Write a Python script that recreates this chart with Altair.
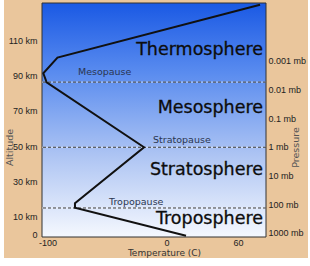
import altair as alt
import pandas as pd

# temperature profile (deg C vs km)
temp_c = [16.4, -76.9, -76.9, -18.9, -100.7, -103.5, -91.6, 78.6]
alt_km = [-0.8, 15.1, 17.6, 49.3, 86.1, 91.2, 100.1, 130.0]

pause_names = ["Tropopause", "Stratopause", "Mesopause"]
pause_km = [14.9, 49.3, 86.2]
pause_label_t = [-48.3, -11.3, -74.4]
pause_label_km = [18.3, 53.4, 91.9]

sphere_names = ["Troposphere", "Stratosphere", "Mesosphere", "Thermosphere"]
sphere_label_km = [8.7, 36.4, 71.5, 104.4]
sphere_label_t = [81.1, 81.1, 81.1, 81.1]

km_ticks = [0, 10, 30, 50, 70, 90, 110]
temp_ticks = [-100, 0, 60]
pressure_ticks = [0.001, 0.01, 0.1, 1, 10, 100, 1000]

TAN = "#EAC69C"
W, H = 224, 234

x_scale = alt.Scale(domain=[-104.6, 83.6], nice=False, zero=False)
y_scale = alt.Scale(domain=[-1.53, 131.0], nice=False, zero=False)

lab = dict(labelFont="Liberation Sans", labelFontSize=9, labelColor="#222",
           labelOverlap=False, ticks=False, tickSize=0, domain=False, grid=False,
           zindex=1)

x_axis = alt.Axis(values=temp_ticks, labelExpr="'' + datum.value", labelPadding=1,
                  title="Temperature (C)", titleFont="DejaVu Sans", titleFontSize=9,
                  titleFontWeight="normal", titleColor="#333", titleX=122, titleY=15,
                  titleBaseline="middle", **lab)
y_axis = alt.Axis(values=km_ticks,
                  labelExpr="datum.value == 0 ? '0' : datum.value + ' km'",
                  labelPadding=5, title="Altitude", titleFont="DejaVu Sans",
                  titleFontSize=9.5, titleFontWeight="normal", titleColor="#555",
                  titleAngle=270, titleX=-33, titleY=144, titleAlign="center",
                  titleBaseline="middle", **lab)


def X(f):
    return alt.X(f, scale=x_scale, axis=x_axis)


def Y(f):
    return alt.Y(f, scale=y_scale, axis=y_axis)


one = pd.DataFrame({"a": [0]})

tan = alt.Chart(one).mark_rect(color=TAN).encode(
    x=alt.value(-38), x2=alt.value(266), y=alt.value(-3), y2=alt.value(255))

grad = alt.Chart(one).mark_rect(
    color=alt.LinearGradient(
        gradient="linear",
        stops=[alt.GradientStop(color="#1a59e4", offset=0),
               alt.GradientStop(color="#5a8cef", offset=0.3),
               alt.GradientStop(color="#adc4f3", offset=0.65),
               alt.GradientStop(color="#f5f8fe", offset=1)],
        x1=0, x2=0, y1=0, y2=1),
    stroke="#333", strokeWidth=1,
).encode(x=alt.value(0), x2=alt.value(W), y=alt.value(0), y2=alt.value(H))

pause_df = pd.DataFrame({"name": pause_names, "km": pause_km})

rules_white = alt.Chart(pause_df).mark_rule(color="white", strokeWidth=1, opacity=0.6).encode(
    y=Y("km:Q"))
rules = alt.Chart(pause_df).mark_rule(color="#3a3a3a", strokeWidth=1, strokeDash=[3, 2]).encode(
    y=Y("km:Q"))

curve_df = pd.DataFrame({"t": temp_c, "km": alt_km, "i": list(range(len(temp_c)))})
line = alt.Chart(curve_df).mark_line(color="#111", strokeWidth=2).encode(
    x=X("t:Q"), y=Y("km:Q"), order=alt.Order("i:Q"))

pause_text = alt.Chart(pd.DataFrame({"name": pause_names, "t": pause_label_t,
                                     "km": pause_label_km})).mark_text(
    align="left", baseline="middle", font="DejaVu Sans", fontSize=9.5, color="#2a3550"
).encode(x=X("t:Q"), y=Y("km:Q"), text="name:N")

sphere_text = alt.Chart(pd.DataFrame({"name": sphere_names, "t": sphere_label_t,
                                      "km": sphere_label_km})).mark_text(
    align="right", baseline="middle", font="DejaVu Sans", fontSize=17.5, color="#0d0d0d",
    stroke="#0d0d0d", strokeWidth=0.3
).encode(x=X("t:Q"), y=Y("km:Q"), text="name:N")

main = alt.layer(tan, grad, rules_white, rules, line, pause_text, sphere_text)

pres = alt.Chart(pd.DataFrame({"p": pressure_ticks})).mark_point(opacity=0).encode(
    y=alt.Y("p:Q",
            scale=alt.Scale(type="log", domain=[9.5e-6, 1379], reverse=True, nice=False),
            axis=alt.Axis(orient="right", values=pressure_ticks,
                          labelExpr="datum.value + ' mb'", labelPadding=2,
                          title="Pressure", titleFont="DejaVu Sans", titleFontSize=9.5,
                          titleFontWeight="normal", titleColor="#555", titleAngle=270,
                          titleX=29, titleY=144, titleAlign="center",
                          titleBaseline="middle", **lab)))

chart = alt.layer(main, pres).resolve_scale(y="independent").properties(
    width=W, height=H,
    autosize=alt.AutoSizeParams(type="none"),
    padding={"left": 42, "top": 3, "right": 44, "bottom": 29},
    background="white",
).configure_view(stroke=None)

chart.save("out.html", embed_options={"renderer": "svg", "actions": False})
